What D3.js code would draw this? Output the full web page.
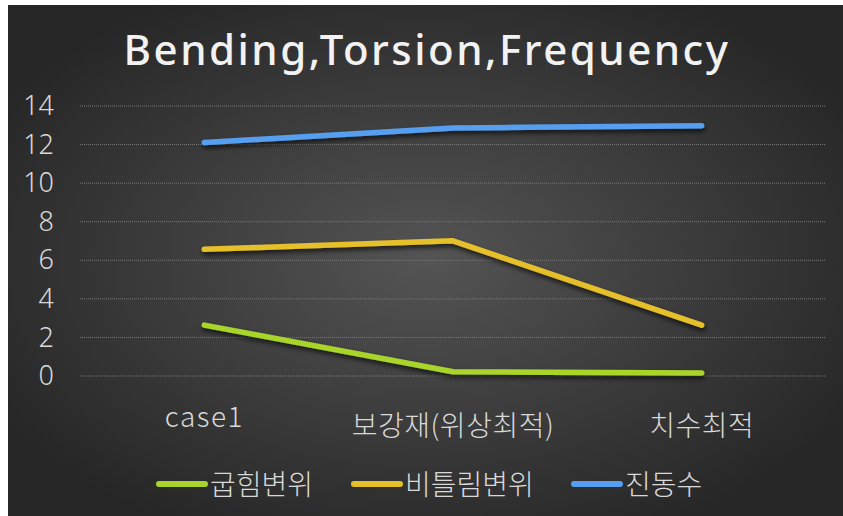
<!DOCTYPE html>
<html>
<head>
<meta charset="utf-8">
<script src="https://cdn.jsdelivr.net/npm/d3@7"></script>
<style>
  body { margin: 0; background: #fff; }
  svg { display: block; }
</style>
</head>
<body>
<svg id="chart"></svg>
<script>
var categories = ["case1", "보강재(위상최적)", "치수최적"];
var seriesNames = ["굽힘변위", "비틀림변위", "진동수"];
var bending = [2.64, 0.22, 0.16];
var torsion = [6.57, 7.01, 2.64];
var frequency = [12.11, 12.86, 12.98];
var yTicks = [0, 2, 4, 6, 8, 10, 12, 14];

var colors = ["#a9d42c", "#e5c02b", "#569ff0"];
var seriesData = [bending, torsion, frequency];

var width = 843, height = 516;
var margin = { left: 80, right: 17 };

var svg = d3.select("#chart")
    .attr("width", width)
    .attr("height", height);

var defs = svg.append("defs");
var grad = defs.append("radialGradient")
    .attr("id", "bg")
    .attr("cx", "50%").attr("cy", "50%").attr("r", "60%");
grad.append("stop").attr("offset", "0%").attr("stop-color", "#545454");
grad.append("stop").attr("offset", "100%").attr("stop-color", "#262626");

var shadow = defs.append("filter").attr("id", "shadow")
    .attr("x", "-10%").attr("y", "-50%").attr("width", "120%").attr("height", "200%");
shadow.append("feDropShadow")
    .attr("dx", 1).attr("dy", 3).attr("stdDeviation", 2.5)
    .attr("flood-color", "#000").attr("flood-opacity", 0.7);

svg.append("rect")
    .attr("x", 8).attr("y", 5)
    .attr("width", width - 8).attr("height", height - 5)
    .attr("fill", "url(#bg)");

var x = d3.scaleBand()
    .domain(categories)
    .range([margin.left, width - margin.right]);

var y = d3.scaleLinear()
    .domain([0, 14])
    .range([376, 106]);

// title
svg.append("text")
    .attr("x", 427)
    .attr("y", 65)
    .attr("text-anchor", "middle")
    .attr("fill", "#f2f2f2")
    .style("font-family", "'Noto Sans', sans-serif")
    .style("font-size", "42px")
    .style("font-weight", 500)
    .style("letter-spacing", "2.5px")
    .text("Bending,Torsion,Frequency");

// gridlines
svg.append("g")
    .selectAll("line")
    .data(yTicks)
    .enter()
    .append("line")
    .attr("x1", margin.left)
    .attr("x2", width - margin.right)
    .attr("y1", function (d) { return y(d); })
    .attr("y2", function (d) { return y(d); })
    .attr("stroke", "#7a7a7a")
    .attr("stroke-width", 1)
    .attr("stroke-dasharray", "1,1");

// y axis labels
var yAxis = d3.axisLeft(y).tickValues(yTicks).tickSize(0).tickPadding(0);
var gy = svg.append("g")
    .attr("transform", "translate(54,0)")
    .call(yAxis);
gy.select(".domain").remove();
gy.selectAll("text")
    .attr("fill", "#d9d9d9")
    .style("font-family", "'Noto Sans', sans-serif")
    .style("font-weight", 300)
    .style("font-size", "27px");

// x axis labels
var xAxis = d3.axisBottom(x).tickSize(0).tickPadding(0);
var gx = svg.append("g")
    .attr("transform", "translate(0,436)")
    .call(xAxis);
gx.select(".domain").remove();
gx.selectAll("text")
    .attr("fill", "#d9d9d9")
    .attr("dy", function (d) { return d === "case1" ? -9 : 0; })
    .style("font-family", "'Noto Sans CJK KR', sans-serif")
    .style("font-weight", 300)
    .style("font-size", "28px")
    .style("letter-spacing", function (d) { return d === "case1" ? "1.5px" : "0.5px"; });

// lines
var line = d3.line()
    .x(function (d, i) { return x(categories[i]) + x.bandwidth() / 2; })
    .y(function (d) { return y(d); });

svg.append("g")
    .selectAll("path")
    .data(seriesData)
    .enter()
    .append("path")
    .attr("d", line)
    .attr("fill", "none")
    .attr("stroke", function (d, i) { return colors[i]; })
    .attr("stroke-width", 5.5)
    .attr("stroke-linecap", "round")
    .attr("stroke-linejoin", "round")
    .attr("filter", "url(#shadow)");

// legend
var legendX = [159, 354, 574];
var legend = svg.append("g")
    .selectAll("g")
    .data(seriesNames)
    .enter()
    .append("g")
    .attr("transform", function (d, i) { return "translate(" + legendX[i] + ",484)"; });
legend.append("line")
    .attr("x1", 0).attr("x2", 46)
    .attr("stroke", function (d, i) { return colors[i]; })
    .attr("stroke-width", 6)
    .attr("stroke-linecap", "round");
legend.append("text")
    .attr("x", 51)
    .attr("y", 11)
    .attr("fill", "#d9d9d9")
    .style("font-family", "'Noto Sans CJK KR', sans-serif")
    .style("font-weight", 300)
    .style("font-size", "28px")
    .text(function (d) { return d; });
</script>
</body>
</html>
